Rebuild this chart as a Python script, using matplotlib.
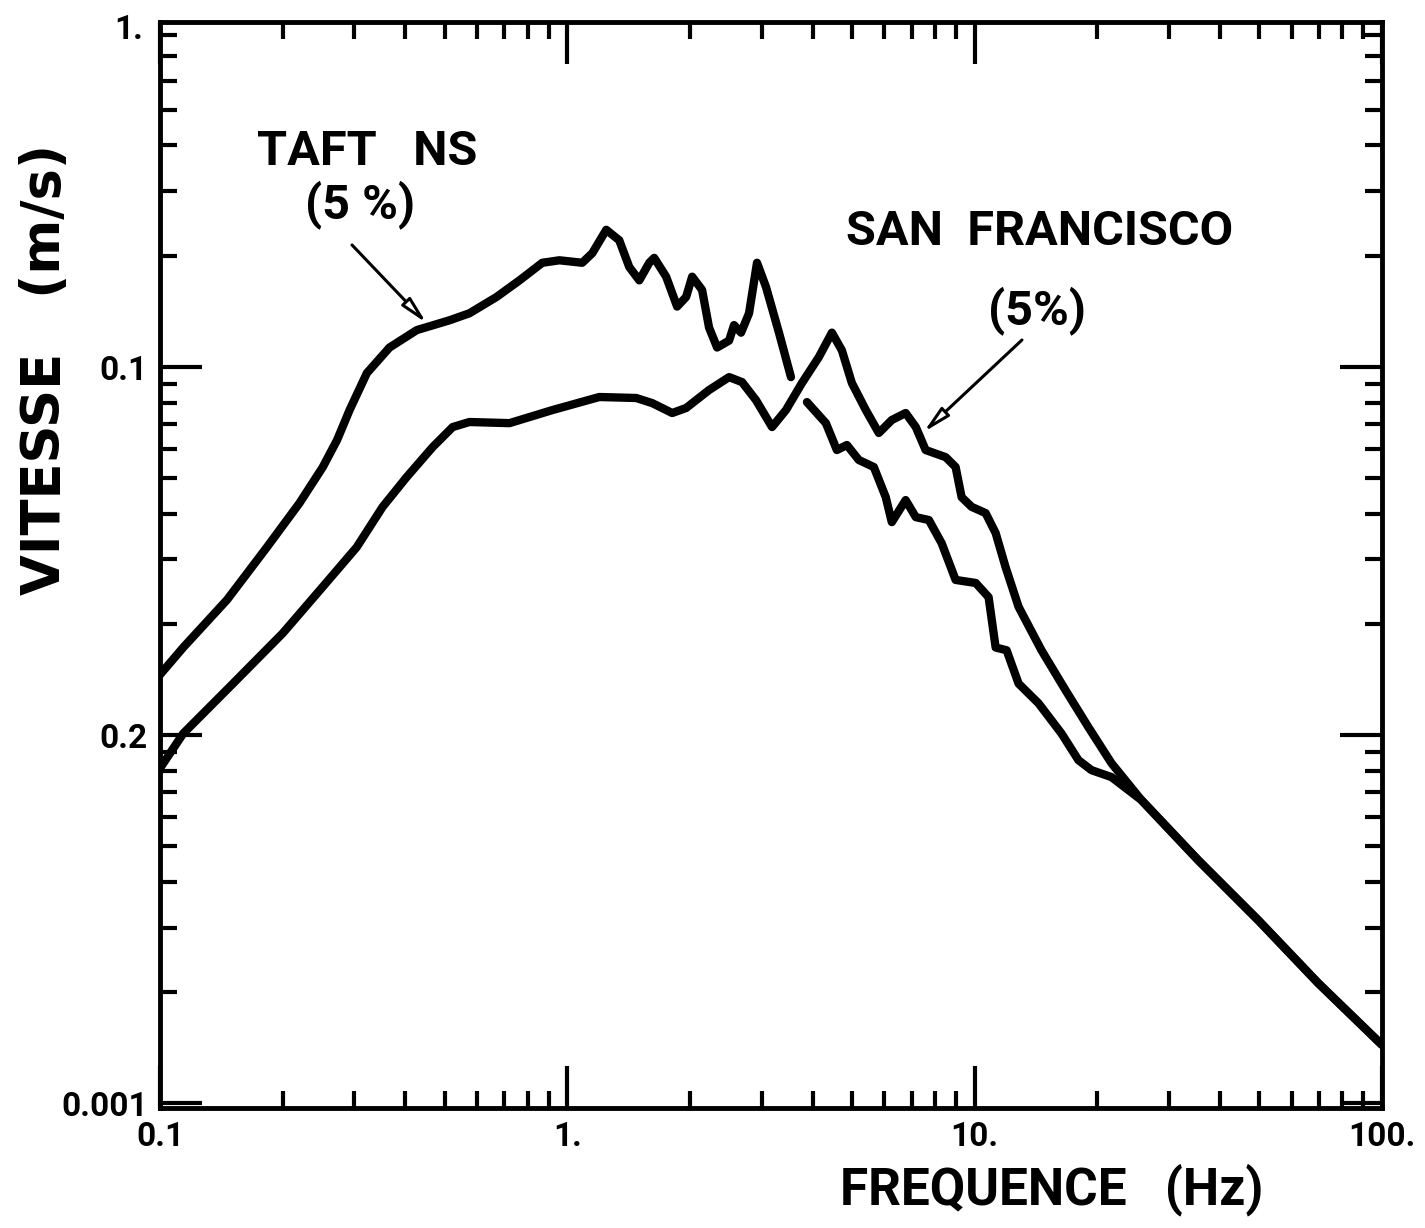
import numpy as np
import matplotlib.pyplot as plt
from matplotlib.ticker import LogLocator, NullFormatter, FixedLocator, FixedFormatter

# Taft NS (5 %) response spectrum (NaN = pen break at the crossing)
freq_taft = [0.1, 0.114, 0.146, 0.183, 0.220, 0.251, 0.272, 0.292, 0.322, 0.366,
             0.427, 0.514, 0.575, 0.670, 0.763, 0.868, 0.956, 1.088, 1.152, 1.246,
             1.341, 1.419, 1.502, 1.589, 1.634, 1.748, 1.860, 1.957, 2.025, 2.142,
             2.228, 2.332, 2.495, 2.566, 2.670, 2.793, 2.922, 3.074, 3.308, 3.540,
             3.70, 3.875, 4.313, 4.589, 4.857, 5.196, 5.655, 6.05, 6.26, 6.77,
             7.17, 7.72, 8.30, 8.98, 10.06, 10.82, 11.26, 11.98, 12.82, 14.35,
             16.34, 17.98, 19.36, 21.67, 25.67, 35.4, 49.7, 69.7, 100.0]
vit_taft = [0.0146, 0.0173, 0.0233, 0.0324, 0.0427, 0.0535, 0.0633, 0.0764, 0.0963, 0.113,
            0.126, 0.134, 0.140, 0.155, 0.172, 0.192, 0.195, 0.192, 0.204, 0.236,
            0.221, 0.187, 0.172, 0.192, 0.198, 0.176, 0.146, 0.155, 0.176, 0.162,
            0.128, 0.113, 0.118, 0.130, 0.124, 0.140, 0.192, 0.165, 0.124, 0.0939,
            np.nan, 0.0803, 0.0704, 0.0595, 0.0614, 0.0559, 0.0535, 0.0443, 0.0379, 0.0435,
            0.0391, 0.0384, 0.0332, 0.0264, 0.0259, 0.0237, 0.0173, 0.0170, 0.0138, 0.0122,
            0.0101, 0.00855, 0.00803, 0.00769, 0.00666, 0.00457, 0.00314, 0.00212, 0.00144]

# San Francisco (5 %)
freq_sf = [0.1, 0.114, 0.151, 0.200, 0.251, 0.304, 0.352, 0.403, 0.467, 0.523,
           0.575, 0.721, 0.919, 1.198, 1.476, 1.616, 1.809, 1.957, 2.228, 2.495,
           2.685, 2.905, 3.181, 3.441, 3.767, 4.146, 4.462, 4.721, 4.995, 5.405,
           5.817, 6.26, 6.77, 7.17, 7.58, 8.49, 8.98, 9.29, 9.83, 10.64,
           11.26, 11.91, 12.82, 14.59, 16.71, 19.03, 21.67, 25.67, 35.4, 49.7,
           69.7, 100.0]
vit_sf = [0.00813, 0.0101, 0.0138, 0.0189, 0.0253, 0.0324, 0.0417, 0.0502, 0.0606, 0.0687,
          0.0709, 0.0704, 0.0764, 0.0829, 0.0824, 0.0798, 0.0750, 0.0774, 0.0866, 0.0939,
          0.0910, 0.0813, 0.0687, 0.0764, 0.0905, 0.1065, 0.124, 0.111, 0.0905, 0.0764,
          0.0662, 0.0718, 0.0750, 0.0687, 0.0595, 0.0569, 0.0535, 0.0443, 0.0417, 0.0401,
          0.0354, 0.0286, 0.0223, 0.0170, 0.01325, 0.0105, 0.00839, 0.00666, 0.00457, 0.00314,
          0.00212, 0.00144]

x_ticks = [0.1, 1.0, 10.0, 100.0]
x_ticklabels = ["0.1", "1.", "10.", "100."]
y_ticks = [0.001, 0.01, 0.1]
y_ticklabels = ["0.001", "0.2", "0.1"]

plt.rcParams['font.family'] = ['Roboto', 'DejaVu Sans']
plt.rcParams['font.weight'] = 'bold'

fig = plt.figure(figsize=(14.25, 12.28), dpi=100)
ax = fig.add_axes([0.1123, 0.0977, 0.8575, 0.8844])

# ---------------- CURVES ----------------
line_kw = dict(color='black', lw=6, solid_joinstyle='round', solid_capstyle='round')
ax.plot(freq_taft, vit_taft, **line_kw)
ax.plot(freq_sf, vit_sf, **line_kw)

# ---------------- AXES ----------------
ax.set_xscale('log')
ax.set_yscale('log')
ax.set_xlim(0.1, 100)
ax.set_ylim(0.00097, 0.866)

for s in ax.spines.values():
    s.set_linewidth(3.5)

ax.xaxis.set_major_locator(FixedLocator(x_ticks))
ax.xaxis.set_major_formatter(FixedFormatter(x_ticklabels))
ax.yaxis.set_major_locator(FixedLocator(y_ticks))
ax.yaxis.set_major_formatter(FixedFormatter(y_ticklabels))
for a in (ax.xaxis, ax.yaxis):
    a.set_minor_locator(LogLocator(base=10, subs=np.arange(2, 10)))
    a.set_minor_formatter(NullFormatter())

ax.tick_params(which='both', direction='in', top=True, right=True,
               labelsize=24, width=3)
ax.tick_params(which='major', length=30, pad=9)
ax.tick_params(which='minor', length=12)

# top label of the velocity axis
ax.text(-0.014, 0.993, "1.", transform=ax.transAxes, ha='right', va='center',
        fontsize=24, fontweight='bold')

# ---------------- LABELS ----------------
ax.set_ylabel("VITESSE   (m/s)", fontsize=38, fontweight='bold',
              family=['DejaVu Sans'])
ax.yaxis.set_label_coords(-0.094, 0.68)
ax.yaxis.label.set_va('center')
ax.set_xlabel("FREQUENCE   (Hz)", fontsize=37, fontweight='bold')
ax.xaxis.set_label_coords(0.73, -0.0755)
ax.xaxis.label.set_va('center')

# ---------------- ANNOTATIONS ----------------
txt_kw = dict(transform=ax.transAxes, ha='center', va='center',
              fontsize=35, fontweight='bold')
ax.text(0.1694, 0.8803, "TAFT   NS", **txt_kw)
ax.text(0.1637, 0.8315, "(5 %)", **txt_kw)
ax.text(0.7201, 0.8066, "SAN  FRANCISCO", **txt_kw)
ax.text(0.7177, 0.7339, "(5%)", **txt_kw)

arrow_kw = dict(arrowstyle='-|>,head_length=1.6,head_width=0.35',
                fc='white', ec='black', lw=2.2, shrinkA=0, shrinkB=0)
ax.annotate('', xy=(0.451, 0.1317), xycoords='data',
            xytext=(0.1571, 0.7947), textcoords='axes fraction',
            arrowprops=arrow_kw)
ax.annotate('', xy=(7.50, 0.0666), xycoords='data',
            xytext=(0.7054, 0.7072), textcoords='axes fraction',
            arrowprops=arrow_kw)

fig.savefig('out.png', dpi=100)
